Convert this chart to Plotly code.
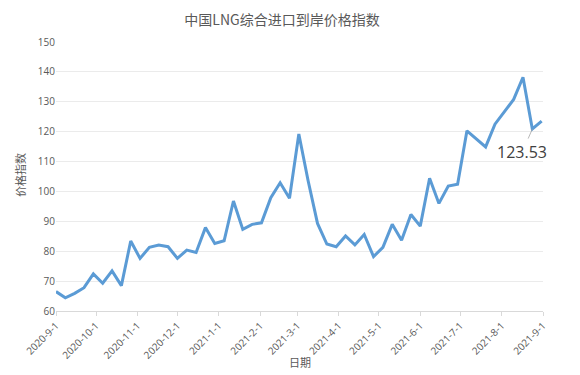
import pandas as pd
import plotly.graph_objects as go

# Weekly observation dates (52 weekly steps from 2020-09-01)
dates = list(pd.date_range("2020-09-01", periods=53, freq="7D"))

price_index = [
    66.5, 64.4, 65.9, 67.8, 72.4, 69.3, 73.4, 68.5, 83.4, 77.6,
    81.3, 82.1, 81.5, 77.6, 80.4, 79.6, 87.9, 82.6, 83.5, 96.8,
    87.3, 89.0, 89.5, 97.9, 102.9, 97.7, 119.2, 103.5, 89.3, 82.4,
    81.5, 85.1, 82.1, 85.6, 78.2, 81.3, 89.0, 83.7, 92.3, 88.4,
    104.4, 96.0, 101.8, 102.4, 120.3, 117.6, 114.9, 122.5, 126.6, 130.8,
    138.2, 120.9, 123.53,
]

tick_dates = ["2020-09-01", "2020-10-01", "2020-11-01", "2020-12-01",
              "2021-01-01", "2021-02-01", "2021-03-01", "2021-04-01",
              "2021-05-01", "2021-06-01", "2021-07-01", "2021-08-01",
              "2021-09-01"]
tick_labels = ["2020-9-1", "2020-10-1", "2020-11-1", "2020-12-1",
               "2021-1-1", "2021-2-1", "2021-3-1", "2021-4-1",
               "2021-5-1", "2021-6-1", "2021-7-1", "2021-8-1",
               "2021-9-1"]

title_text = "中国LNG综合进口到岸价格指数"
y_title = "价格指数"
x_title = "日期"
last_label = "123.53"

FONT = "Open Sans, Noto Sans CJK SC, sans-serif"
GRAY = "#595959"

fig = go.Figure()
fig.add_trace(go.Scatter(
    x=dates, y=price_index, mode="lines",
    line=dict(color="#5B9BD5", width=3),
    hoverinfo="skip", showlegend=False,
))

fig.update_layout(
    width=580, height=375,
    margin=dict(l=56, r=37, t=42, b=64),
    paper_bgcolor="white", plot_bgcolor="white",
    font=dict(family=FONT, color=GRAY, size=10),
    title=dict(text=title_text, x=282/580, xref="container", xanchor="center",
               y=1-20/375, yref="container", yanchor="middle",
               font=dict(family="Noto Sans CJK SC, sans-serif", size=14, color=GRAY)),
    xaxis=dict(
        type="date", range=["2020-09-01", "2021-09-01"],
        tickvals=tick_dates, ticktext=tick_labels, tickangle=-45,
        showgrid=False, showline=True, linecolor="#d9d9d9", linewidth=1,
        ticks="outside", ticklen=4, tickcolor="#d9d9d9",
        tickfont=dict(size=10, color=GRAY), zeroline=False,
    ),
    yaxis=dict(
        range=[60, 150], dtick=10, showgrid=True, gridcolor="#ebebeb",
        gridwidth=1, zeroline=False, showline=False,
        tickfont=dict(size=10, color=GRAY),
    ),
    annotations=[
        dict(text=y_title, xref="paper", yref="paper", x=(20-56)/487, y=(311-175)/269,
             textangle=-90, showarrow=False, xanchor="center", yanchor="middle",
             font=dict(family="Noto Sans CJK SC, sans-serif", size=11, color=GRAY)),
        dict(text=x_title, xref="paper", yref="paper", x=(300-56)/487, y=(311-362)/269,
             showarrow=False, xanchor="center", yanchor="middle",
             font=dict(family="Noto Sans CJK SC, sans-serif", size=11, color=GRAY)),
        dict(text=last_label, x=dates[51], y=price_index[51], xref="x", yref="y",
             showarrow=True, arrowhead=0, arrowwidth=0.8, arrowcolor="#a6a6a6",
             ax=-10, ay=23, startstandoff=1,
             font=dict(family="Open Sans, sans-serif", size=16, color="#404040")),
    ],
)

fig.write_html("out.html")
